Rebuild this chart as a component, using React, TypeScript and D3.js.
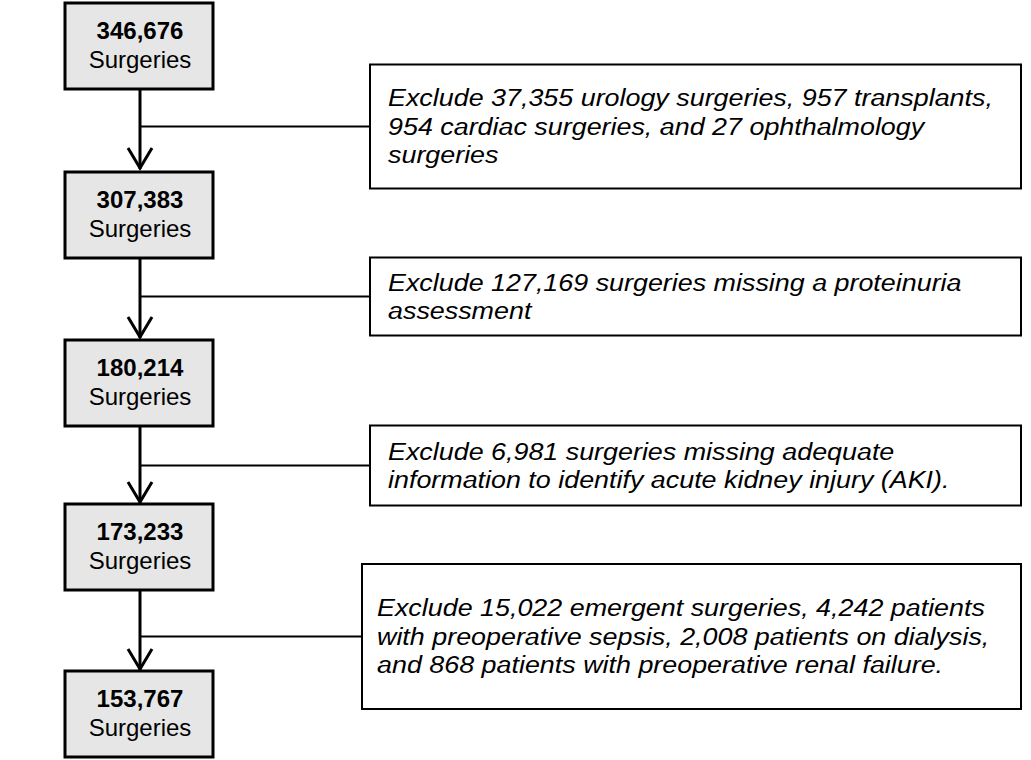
// Cohort flow diagram - surgeries excluded at each step
import React, { useEffect, useRef } from 'react';
import * as d3 from 'd3';

const counts = [346676, 307383, 180214, 173233, 153767];
const unitLabel = 'Surgeries';

const exclusionLines = [
  ['Exclude 37,355 urology surgeries, 957 transplants,', '954 cardiac surgeries, and 27 ophthalmology', 'surgeries'],
  ['Exclude 127,169 surgeries missing a proteinuria', 'assessment'],
  ['Exclude 6,981 surgeries missing adequate', 'information to identify acute kidney injury (AKI).'],
  ['Exclude 15,022 emergent surgeries, 4,242 patients', 'with preoperative sepsis, 2,008 patients on dialysis,', 'and 868 patients with preoperative renal failure.'],
];

// layout for the exclusion boxes (height, left edge, text padding, vertical shift of centre)
const exclHeights = [124, 78, 80, 145];
const exclLeft = [370, 370, 370, 362];
const exclPad = [18, 18, 18, 15];
const exclShift = [-3, 0, 2, 6];

const W = 1031;
const H = 760;

export default function App() {
  const svgRef = useRef<SVGSVGElement>(null);

  useEffect(() => {
    if (!svgRef.current) return;
    const svg = d3.select(svgRef.current);
    svg.selectAll('*').remove();

    const boxW = 148;
    const boxH = 86;
    const boxX = 65;
    const cx = boxX + boxW / 2 + 1;
    const exclRight = 1021;
    const fmt = d3.format(',');

    const y = d3.scaleLinear().domain([0, counts.length - 1]).range([3, H - 3 - boxH]);

    const font = 'Arial, "Liberation Sans", Helvetica, sans-serif';

    // connectors between main boxes
    counts.slice(1).forEach((_, i) => {
      const top = y(i) + boxH;
      const bottom = y(i + 1) + (i === 1 ? 2 : 0);
      svg.append('line')
        .attr('x1', cx).attr('x2', cx)
        .attr('y1', top).attr('y2', bottom - 1)
        .attr('stroke', '#000').attr('stroke-width', 3);
      svg.append('path')
        .attr('d', `M${cx - 12},${bottom - 22} L${cx},${bottom - 2} L${cx + 12},${bottom - 22}`)
        .attr('fill', 'none')
        .attr('stroke', '#000')
        .attr('stroke-width', 3);
    });

    // exclusion boxes with their branch lines
    exclusionLines.forEach((lines, i) => {
      const mid = (y(i) + boxH + y(i + 1)) / 2 + exclShift[i];
      const h = exclHeights[i];
      const x0 = exclLeft[i];
      svg.append('line')
        .attr('x1', cx).attr('x2', x0)
        .attr('y1', mid).attr('y2', mid)
        .attr('stroke', '#000').attr('stroke-width', 2);
      svg.append('rect')
        .attr('x', x0).attr('y', mid - h / 2)
        .attr('width', exclRight - x0).attr('height', h)
        .attr('fill', '#fff')
        .attr('stroke', '#000').attr('stroke-width', 2);
      const lh = 28.5;
      const t = svg.append('text')
        .attr('transform', `translate(${x0 + exclPad[i]},0) scale(1.12,1)`)
        .attr('font-family', font)
        .attr('font-size', 24)
        .attr('font-style', 'italic')
        .attr('fill', '#000');
      lines.forEach((ln, j) => {
        t.append('tspan')
          .attr('x', 0)
          .attr('y', mid + (j - (lines.length - 1) / 2) * lh)
          .attr('dominant-baseline', 'central')
          .text(ln);
      });
    });

    // main boxes
    counts.forEach((c, i) => {
      const top = y(i) + (i === 1 ? 2 : i === 2 ? 3 : 0);
      svg.append('rect')
        .attr('x', boxX).attr('y', top)
        .attr('width', boxW).attr('height', boxH)
        .attr('fill', '#e6e6e6')
        .attr('stroke', '#000').attr('stroke-width', 3);
      svg.append('text')
        .attr('x', cx).attr('y', top + boxH / 2 - 16)
        .attr('text-anchor', 'middle')
        .attr('dominant-baseline', 'central')
        .attr('font-family', font)
        .attr('font-size', 24)
        .attr('font-weight', 'bold')
        .text(fmt(c));
      svg.append('text')
        .attr('x', cx).attr('y', top + boxH / 2 + 13)
        .attr('text-anchor', 'middle')
        .attr('dominant-baseline', 'central')
        .attr('font-family', font)
        .attr('font-size', 24)
        .text(unitLabel);
    });
  }, []);

  return (
    <svg
      ref={svgRef}
      width={W}
      height={H}
      style={{ position: 'absolute', left: 0, top: 0, display: 'block', background: '#fff' }}
    />
  );
}
